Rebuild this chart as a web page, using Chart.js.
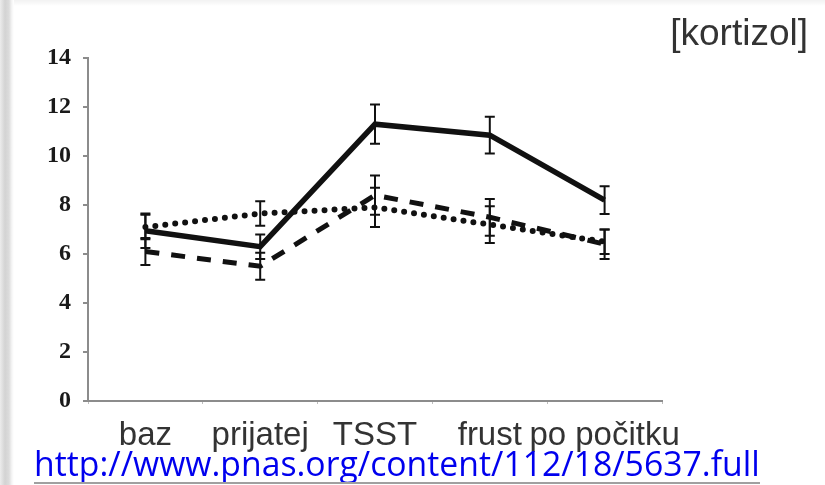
<!DOCTYPE html>
<html>
<head>
<meta charset="utf-8">
<script src="https://cdn.jsdelivr.net/npm/chart.js@4.4.1/dist/chart.umd.min.js"></script>
<style>
  html, body { margin: 0; padding: 0; background: #fff; }
  #wrap { position: relative; width: 825px; height: 485px; overflow: hidden; background: #fff; }
  #shadeLeft { position: absolute; left: 0; top: 0; width: 14px; height: 485px;
    background: linear-gradient(to right, #ececec 0px, #d3d3d3 5px, #dcdcdc 9px, #f6f6f6 12px, #fff 14px); }
  #shadeTop { position: absolute; left: 10px; top: 0; width: 815px; height: 6px;
    background: linear-gradient(to bottom, #f2f2f2, #fafafa 4px, #fff); }
  #chart { position: absolute; left: 0; top: 0; }
  #title { position: absolute; right: 17px; top: 14px; font-family: "Liberation Sans", Arial, sans-serif;
    font-size: 37px; color: #333; line-height: 1; }
  #link { position: absolute; left: 34px; top: 445px; font-family: "Open Sans", "Noto Sans", sans-serif;
    font-size: 35px; color: #0000ee; line-height: 1; white-space: nowrap; transform-origin: 0 0; }
  #linkLine { position: absolute; left: 34px; top: 482px; width: 726px; height: 2px; background: #a0a0a0; }
</style>
</head>
<body>
<div id="wrap">
  <div id="shadeTop"></div>
  <div id="shadeLeft"></div>
  <canvas id="chart" width="825" height="485"></canvas>
  <div id="title">[kortizol]</div>
  <div id="link">http://www.pnas.org/content/112/18/5637.full</div>
  <div id="linkLine"></div>
</div>
<script>
// data
const phases = ['baz', 'prijatej', 'TSST', 'frust', 'po počitku'];
const solidMean = [6.95, 6.3, 11.3, 10.85, 8.2];
const solidErr = [0.7, 0.5, 0.8, 0.75, 0.57];
const dottedMean = [7.1, 7.65, 7.9, 7.2, 6.5];
const dottedErr = [0.5, 0.5, 0.8, 0.75, 0.5];
const dashedMean = [6.1, 5.5, 8.4, 7.5, 6.4];
const dashedErr = [0.55, 0.55, 0.8, 0.75, 0.6];
const yTicks = [0, 2, 4, 6, 8, 10, 12, 14];

// fit the link text to its width in the slide
const link = document.getElementById('link');
link.style.transform = 'scaleX(' + (726 / link.offsetWidth) + ')';

const errorBars = {
  id: 'errorBars',
  afterDatasetsDraw(chart) {
    const ctx = chart.ctx;
    const y = chart.scales.y;
    ctx.save();
    ctx.strokeStyle = '#111';
    ctx.lineWidth = 2;
    chart.data.datasets.forEach((ds, i) => {
      const meta = chart.getDatasetMeta(i);
      meta.data.forEach((pt, j) => {
        const top = y.getPixelForValue(ds.data[j] + ds.err[j]);
        const bot = y.getPixelForValue(ds.data[j] - ds.err[j]);
        ctx.beginPath();
        ctx.moveTo(pt.x, top); ctx.lineTo(pt.x, bot);
        ctx.moveTo(pt.x - 5, top); ctx.lineTo(pt.x + 5, top);
        ctx.moveTo(pt.x - 5, bot); ctx.lineTo(pt.x + 5, bot);
        ctx.stroke();
      });
    });
    ctx.restore();
  }
};

new Chart(document.getElementById('chart'), {
  type: 'line',
  data: {
    labels: phases,
    datasets: [
      { label: 'dotted', data: dottedMean, err: dottedErr, borderColor: '#111', borderWidth: 6,
        borderDash: [0, 10], borderCapStyle: 'round', pointRadius: 0, tension: 0, clip: false },
      { label: 'dashed', data: dashedMean, err: dashedErr, borderColor: '#111', borderWidth: 5,
        borderDash: [14, 12], pointRadius: 0, tension: 0, clip: false },
      { label: 'solid', data: solidMean, err: solidErr, borderColor: '#111', borderWidth: 5.5,
        pointRadius: 0, tension: 0, clip: false }
    ]
  },
  options: {
    responsive: false,
    animation: false,
    devicePixelRatio: 1,
    layout: { padding: { left: 0, top: 58, right: 163, bottom: 0 } },
    plugins: { legend: { display: false }, tooltip: { enabled: false } },
    scales: {
      x: {
        offset: true,
        afterFit: s => { s.height = 84; },
        border: { color: '#8c8c8c', width: 2 },
        grid: { offset: true, drawOnChartArea: false, tickLength: 3, color: '#bdbdbd' },
        ticks: { color: '#333', padding: 12, autoSkip: false, maxRotation: 0, minRotation: 0,
          font: { family: '"Liberation Sans", Arial, sans-serif', size: 33 } }
      },
      y: {
        min: 0, max: 14,
        afterFit: s => { s.width = 88; },
        afterBuildTicks: s => { s.ticks = yTicks.map(v => ({ value: v })); },
        border: { color: '#8c8c8c', width: 2 },
        grid: { drawOnChartArea: false, tickLength: 5, color: '#8c8c8c', lineWidth: 2 },
        ticks: { color: '#1a1a1a', padding: 12, font: { family: '"Liberation Serif", serif', size: 24, weight: 'bold' } }
      }
    }
  },
  plugins: [errorBars]
});
</script>
</body>
</html>
